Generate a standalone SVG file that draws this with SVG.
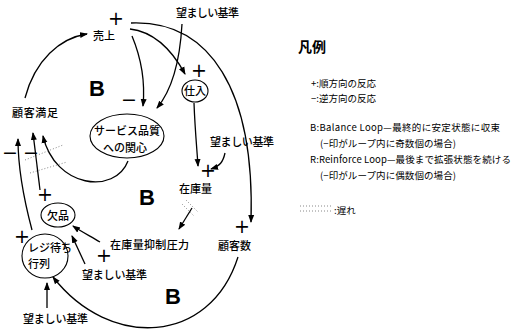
<svg xmlns="http://www.w3.org/2000/svg" width="512" height="334" viewBox="0 0 512 334">
<style>
.t{font-family:"Noto Sans CJK JP","Liberation Sans",sans-serif;font-size:11px;fill:#000;font-weight:500}
.s{font-family:"DejaVu Sans","Liberation Sans",sans-serif;font-size:19px;fill:#000}
.b{font-family:"Liberation Sans",sans-serif;font-size:22px;font-weight:bold;fill:#000}
.c{fill:none;stroke:#000;stroke-width:1.3}
.n{fill:#fff;stroke:#000;stroke-width:1.1}
.d{fill:none;stroke:#888;stroke-width:1;stroke-dasharray:1 2}
.l{font-family:"Noto Sans CJK JP","Liberation Sans",sans-serif;font-size:9.5px;fill:#000}
</style>
<defs>
<marker id="a" markerWidth="8" markerHeight="8" refX="7" refY="4" orient="auto" markerUnits="userSpaceOnUse"><path d="M0,1 L8,4 L0,7 Z" fill="#000"/></marker>
</defs>
<rect width="512" height="334" fill="#fff"/>
<g id="connectors">
<path class="c" d="M25,98 C35,60 60,38 87,34" marker-end="url(#a)"/>
<path class="c" d="M132,36 C142,60 145,85 143,106" marker-end="url(#a)"/>
<path class="c" d="M182,24 C180,60 172,90 157,108" marker-end="url(#a)"/>
<path class="c" d="M130,29 C155,32 172,50 185,74" marker-end="url(#a)"/>
<path class="c" d="M131,23 C210,20 255,90 251,222" marker-end="url(#a)"/>
<path class="c" d="M194,103 C195,130 197,150 198,166" marker-end="url(#a)"/>
<path class="c" d="M225,153 C223,162 220,166 211,169" marker-end="url(#a)"/>
<path class="c" d="M192,208 L179,229" marker-end="url(#a)"/>
<path class="c" d="M100,242 C90,236 82,232 73,226" marker-end="url(#a)"/>
<path class="c" d="M85,264 L72,236" marker-end="url(#a)"/>
<path class="c" d="M238,257 C210,345 110,350 53,277" marker-end="url(#a)"/>
<path class="c" d="M47,308 L47,283" marker-end="url(#a)"/>
<path class="c" d="M32,230 C24,200 18,170 18,139" marker-end="url(#a)"/>
<path class="c" d="M40,190 L33,133" marker-end="url(#a)"/>
<path class="c" d="M128,161 C115,195 55,188 43,136" marker-end="url(#a)"/>
<path class="d" d="M25,160 L63,145 M30,173 L67,162"/>
<path class="d" d="M182,204 L194,216 M186,200 L198,212"/>
</g>
<g id="uriage"><text class="s" x="108" y="25">+</text><text class="t" x="93" y="40">売上</text></g>
<g id="kijun1"><text class="t" x="176" y="17" textLength="63">望ましい基準</text></g>
<g id="loopB1"><text class="b" x="89" y="96">B</text><text class="s" x="121" y="106">−</text></g>
<g id="shiire"><text class="s" x="191" y="77">+</text><ellipse class="n" cx="195" cy="91" rx="13" ry="11"/><text class="t" x="184" y="95">仕入</text></g>
<g id="service"><ellipse class="n" cx="127" cy="136" rx="37" ry="22"/><text class="t" x="94" y="135" textLength="66">サービス品質</text><text class="t" x="103" y="152">への関心</text></g>
<g id="manzoku"><text class="t" x="12" y="117" textLength="46">顧客満足</text><text class="s" x="2" y="159">−</text><text class="s" x="23" y="159">−</text></g>
<g id="kijun2"><text class="t" x="210" y="146" textLength="64">望ましい基準</text></g>
<g id="zaiko"><text class="s" x="200" y="177">+</text><text class="t" x="179" y="193">在庫量</text></g>
<g id="loopB2"><text class="b" x="139" y="205">B</text></g>
<g id="kepin"><text class="s" x="37" y="201">+</text><ellipse class="n" cx="58" cy="215" rx="17" ry="12"/><text class="t" x="47" y="220">欠品</text></g>
<g id="reji"><ellipse class="n" cx="45" cy="256" rx="23" ry="22"/><text class="s" x="14" y="243">+</text><text class="t" x="28" y="252">レジ待ち</text><text class="t" x="28" y="268">行列</text></g>
<g id="yokusei"><text class="s" x="96" y="262">+</text><text class="t" x="110" y="249" textLength="79">在庫量抑制圧力</text></g>
<g id="kijun3"><text class="t" x="82" y="279" textLength="65">望ましい基準</text></g>
<g id="kokyakusu"><text class="s" x="234" y="233">+</text><text class="t" x="218" y="250">顧客数</text></g>
<g id="loopB3"><text class="b" x="165" y="304">B</text></g>
<g id="kijun4"><text class="t" x="23" y="323" textLength="65">望ましい基準</text></g>
<g id="legend">
<text class="t" x="298" y="52" style="font-size:14px;font-weight:bold">凡例</text>
<text class="l" x="311" y="87">+:順方向の反応</text>
<text class="l" x="311" y="102">−:逆方向の反応</text>
<text class="l" x="310" y="131" textLength="190">B:Balance Loop—最終的に安定状態に収束</text>
<text class="l" x="320" y="147" textLength="136">(−印がループ内に奇数個の場合)</text>
<text class="l" x="310" y="163" textLength="201">R:Reinforce Loop—最後まで拡張状態を続ける</text>
<text class="l" x="320" y="179" textLength="136">(−印がループ内に偶数個の場合)</text>
<path class="d" d="M300,206 L332,206 M300,211 L332,211"/>
<text class="l" x="334" y="214">:遅れ</text>
</g>
</svg>
